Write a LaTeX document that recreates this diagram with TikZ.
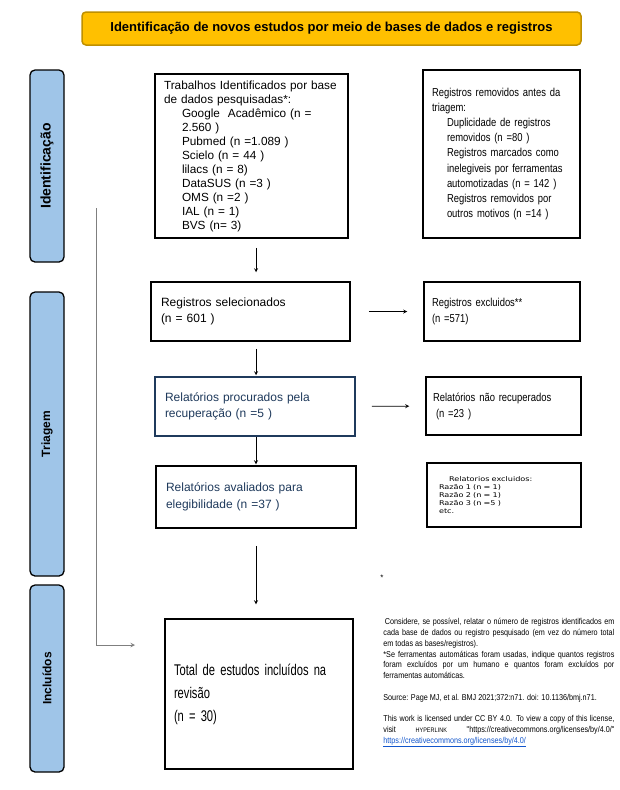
\documentclass[tikz,border=0pt]{standalone}
\usepackage{fontspec}
\setmainfont{Liberation Sans}
\newfontfamily\narrowfont[FakeStretch=0.82]{Liberation Sans}
\newfontfamily\totalfont[FakeStretch=0.72]{Liberation Sans}
\newfontfamily\notefont[FakeStretch=0.85]{Liberation Sans}
\newfontfamily\tinyfont[FakeStretch=1.25]{DejaVu Sans}
\definecolor{titlegold}{HTML}{FFC000}
\definecolor{titleedge}{HTML}{BF9000}
\definecolor{phaseblue}{HTML}{9FC5E8}
\definecolor{boxnavy}{HTML}{1F3A5C}
\definecolor{linkblue}{HTML}{1155CC}
\definecolor{linegray}{HTML}{7F7F7F}

\begin{document}
\begin{tikzpicture}[->,>=stealth,thick,x=1pt,y=-1pt,
    main node/.style={draw,line width=1.5pt,rectangle,align=left,inner xsep=10pt,inner ysep=0pt,font=\fontsize{12}{16.5}\selectfont},
    side node/.style={draw,fill=phaseblue,line width=1.3pt,rounded corners=5pt,rotate=90,minimum height=34pt,font=\fontsize{12}{14}\selectfont\bfseries},
    title node/.style={draw=titleedge,fill=titlegold,line width=1.5pt,rounded corners=4pt,minimum width=499pt,minimum height=33pt,font=\fontsize{13}{15}\selectfont\bfseries},
    gray line/.style={draw=linegray,line width=1pt}]

            \fill[white] (0,0) rectangle (620,790);
            \useasboundingbox (0,0) rectangle (620,790);

            \node[title node] (t) at (331.5,28.5) {Identificação de novos estudos por meio de bases de dados e registros};

            \node[side node] (i) at (47,166) [minimum width=192pt,font=\fontsize{14}{16}\selectfont\bfseries] {Identificação};
            \node[side node] (tr) at (47,434) [minimum width=284pt] {Triagem};
            \node[side node] (in) at (47,678.5) [minimum width=187pt] {Incluídos};

            \node[main node] (1) at (251.5,156) [minimum width=193pt,minimum height=164pt,text width=179pt,inner xsep=7pt,font=\fontsize{11.8}{14}\selectfont]
                {\hspace*{2pt}Trabalhos Identificados por base\\
                \hspace*{2pt}de dados pesquisadas*:\\
                \hspace*{20pt}Google\ \ Acadêmico (n =\\
                \hspace*{20pt}2.560 )\\
                \hspace*{20pt}Pubmed (n =1.089 )\\
                \hspace*{20pt}Scielo (n = 44 )\\
                \hspace*{20pt}lilacs (n = 8)\\
                \hspace*{20pt}DataSUS (n =3 )\\
                \hspace*{20pt}OMS (n =2 )\\
                \hspace*{20pt}IAL (n = 1)\\
                \hspace*{20pt}BVS (n= 3)};
            \node[main node] (2) at (501.5,154) [minimum width=157pt,minimum height=168pt,text width=139pt,inner xsep=9pt,font=\narrowfont\fontsize{11.5}{15.1}\selectfont]
                {Registros removidos antes da\\
                triagem:\\
                \hspace*{15pt}Duplicidade de registros\\
                \hspace*{15pt}removidos (n =80 )\\
                \hspace*{15pt}Registros marcados como\\
                \hspace*{15pt}inelegiveis por ferramentas\\
                \hspace*{15pt}automotizadas (n = 142 )\\
                \hspace*{15pt}Registros removidos por\\
                \hspace*{15pt}outros motivos (n =14 )};

            \node[main node] (3) at (250.5,311.5) [minimum width=199pt,minimum height=59pt,text width=179pt] {Registros selecionados\\(n = 601 )};
            \node[main node] (4) at (502,311.5) [minimum width=156pt,minimum height=59pt,text width=140pt,inner xsep=8pt,font=\narrowfont\fontsize{11.5}{16}\selectfont] {Registros excluidos**\\(n =571)};

            \node[main node] (5) at (255,406.5) [draw=boxnavy,text=boxnavy,minimum width=200pt,minimum height=59pt,text width=180pt] {Relatórios procurados pela\\recuperação (n =5 )};
            \node[main node] (6) at (503.5,406) [minimum width=155pt,minimum height=58pt,text width=141pt,inner xsep=7pt,font=\narrowfont\fontsize{11.5}{16}\selectfont] {Relatórios não recuperados\\\hspace*{3pt}(n =23 )};

            \node[main node] (7) at (256,497) [text=boxnavy,minimum width=200pt,minimum height=62pt,text width=180pt] {Relatórios avaliados para\\elegibilidade (n =37 )};
            \node[main node] (8) at (504,495) [line width=1.2pt,minimum width=154pt,minimum height=64pt,text width=130pt,inner xsep=12pt,font=\tinyfont\fontsize{6.5}{7.8}\selectfont]
                {\hspace*{10pt}Relatorios excluidos:\\
                Razão 1 (n = 1)\\
                Razão 2 (n = 1)\\
                Razão 3 (n =5 )\\
                etc.};

            \node[main node] (9) at (259,694) [minimum width=188pt,minimum height=150pt,text width=170pt,inner xsep=9pt,font=\totalfont\fontsize{15.5}{23}\selectfont] {Total de estudos incluídos na\\revisão\\(n = 30)};

            \node[inner sep=0pt,font=\fontsize{8}{8}\selectfont] (10) at (382,578) {*};
            \node[anchor=north west,inner sep=0pt,text width=231pt,align=justify,font=\notefont\fontsize{8.5}{10.8}\selectfont] (11) at (383,618)
                {\hyphenpenalty=10000\hspace*{1.5pt}Considere, se possível, relatar o número de registros identificados em\linebreak
                cada base de dados ou registro pesquisado (em vez do número total\linebreak
                em todas as bases/registros).\\
                **Se ferramentas automáticas foram usadas, indique quantos registros\linebreak
                foram excluídos por um humano e quantos foram excluídos por\linebreak
                ferramentas automáticas.\\[10.8pt]
                Source: Page MJ, et al. BMJ 2021;372:n71. doi: 10.1136/bmj.n71.\\[10.8pt]
                This work is licensed under CC BY 4.0. To view a copy of this license,\linebreak
                visit {\fontsize{6.5}{10.8}\selectfont HYPERLINK} "https://creativecommons.org/licenses/by/4.0/"\linebreak
                \textcolor{linkblue}{\underline{https://creativecommons.org/licenses/by/4.0/}}};

            \coordinate (a) at (96,208);
            \coordinate (b) at (135,645);

            \draw[shorten <=9pt,shorten >=9pt] ([xshift=4.5pt]1.south) to ([xshift=5.5pt]3.north);
            \draw[shorten <=7pt,shorten >=1pt] ([xshift=5.5pt]3.south) to ([xshift=1pt]5.north);
            \draw[shorten >=1pt] ([xshift=1pt]5.south) to (7.north);
            \draw[shorten <=17pt,shorten >=14pt] (7.south) to ([xshift=-3pt]9.north);
            \draw[shorten <=18pt,shorten >=16pt] (3) to (4);
            \draw[shorten <=16pt,shorten >=16pt] (5) to (6);
            \draw[gray line] (a) |- (b);

            ;
        \end{tikzpicture}
\end{document}
